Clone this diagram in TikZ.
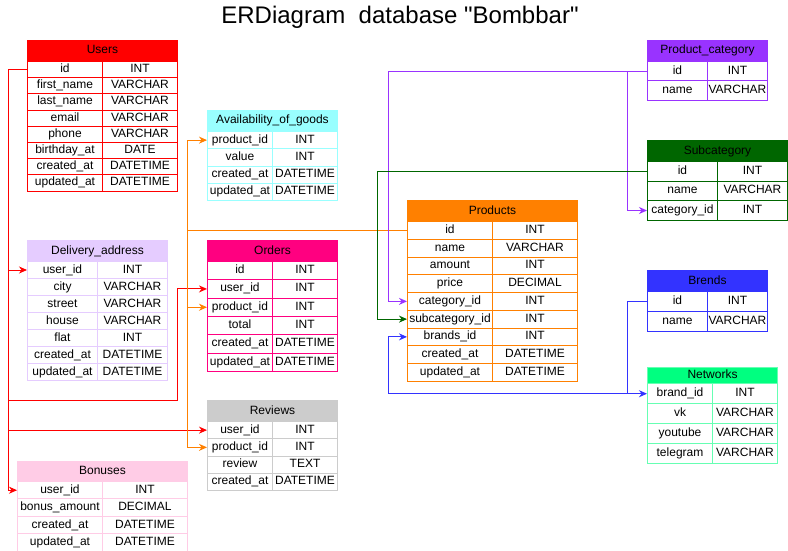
\documentclass[tikz,border=0pt]{standalone}
\usepackage{fontspec}
\setmainfont{Liberation Sans}[Ligatures=TeXOff]
\usetikzlibrary{arrows.meta}
\definecolor{usrred}{HTML}{FF0000}
\definecolor{avcyan}{HTML}{99FFFF}
\definecolor{dlvlav}{HTML}{E5CCFF}
\definecolor{ordpink}{HTML}{FF0080}
\definecolor{prdorange}{HTML}{FF8000}
\definecolor{pcpurple}{HTML}{9933FF}
\definecolor{subgreen}{HTML}{006600}
\definecolor{brblue}{HTML}{3333FF}
\definecolor{nethead}{HTML}{00FF80}
\definecolor{netline}{HTML}{66FFB3}
\definecolor{revgray}{HTML}{CCCCCC}
\definecolor{bonpink}{HTML}{FFCCE6}

\begin{document}
\begin{tikzpicture}[x=1pt,y=-1pt]
\tikzstyle{every node}+=[inner sep=0pt, anchor=north west, font=\fontsize{12}{14}\selectfont]
\tikzstyle{cell}=[draw, line width=1pt, text height=8.6pt, text depth=2.6pt]
\tikzstyle{fk}=[line width=1pt, -{Stealth[length=8pt,width=7pt,inset=2.5pt]}]
\tikzstyle{usr}=[cell, draw=usrred, minimum width=75pt, minimum height=16.2pt]
\tikzstyle{avl}=[cell, draw=avcyan, minimum width=65pt, minimum height=17.25pt]
\tikzstyle{dlv}=[cell, draw=dlvlav, minimum width=70pt, minimum height=17pt]
\tikzstyle{ord}=[cell, draw=ordpink, minimum width=65pt, minimum height=18.3pt]
\tikzstyle{prd}=[cell, draw=prdorange, minimum width=85pt, minimum height=17.75pt]
\tikzstyle{pct}=[cell, draw=pcpurple, minimum width=60pt, minimum height=19.5pt]
\tikzstyle{sbc}=[cell, draw=subgreen, minimum width=70pt, minimum height=19.6pt]
\tikzstyle{brd}=[cell, draw=brblue, minimum width=60pt, minimum height=20pt]
\tikzstyle{ntw}=[cell, draw=netline, minimum width=65pt, minimum height=19.85pt]
\tikzstyle{rvw}=[cell, draw=revgray, minimum width=65pt, minimum height=17.25pt]
\tikzstyle{bns}=[cell, draw=bonpink, minimum width=85pt, minimum height=17.4pt]
\useasboundingbox (0,0) rectangle (788,551);
\node[anchor=center, font=\fontsize{24}{28}\selectfont] (title) at (400,17) {ERDiagram\ \ database "Bombbar"};

\node[usr, fill=usrred, minimum width=150pt, minimum height=21pt] (users) at (27,40) {Users};
\node[usr] (users-id) at (27,61) {id};
\node[usr] (users-id-t) at (102,61) {INT};
\node[usr] (users-fn) at (27,77.2) {first\_name};
\node[usr] (users-fn-t) at (102,77.2) {VARCHAR};
\node[usr] (users-ln) at (27,93.4) {last\_name};
\node[usr] (users-ln-t) at (102,93.4) {VARCHAR};
\node[usr] (users-em) at (27,109.6) {email};
\node[usr] (users-em-t) at (102,109.6) {VARCHAR};
\node[usr] (users-ph) at (27,125.8) {phone};
\node[usr] (users-ph-t) at (102,125.8) {VARCHAR};
\node[usr] (users-bd) at (27,142) {birthday\_at};
\node[usr] (users-bd-t) at (102,142) {DATE};
\node[usr] (users-ca) at (27,158.2) {created\_at};
\node[usr] (users-ca-t) at (102,158.2) {DATETIME};
\node[usr] (users-ua) at (27,174.4) {updated\_at};
\node[usr] (users-ua-t) at (102,174.4) {DATETIME};

\node[avl, fill=avcyan, minimum width=130pt, minimum height=21pt] (avail) at (207,110) {Availability\_of\_goods};
\node[avl] (avail-pid) at (207,131) {product\_id};
\node[avl] (avail-pid-t) at (272,131) {INT};
\node[avl] (avail-val) at (207,148.25) {value};
\node[avl] (avail-val-t) at (272,148.25) {INT};
\node[avl] (avail-ca) at (207,165.5) {created\_at};
\node[avl] (avail-ca-t) at (272,165.5) {DATETIME};
\node[avl] (avail-ua) at (207,182.75) {updated\_at};
\node[avl] (avail-ua-t) at (272,182.75) {DATETIME};

\node[dlv, fill=dlvlav, minimum width=140pt, minimum height=21pt] (deliv) at (27,240) {Delivery\_address};
\node[dlv] (deliv-uid) at (27,261) {user\_id};
\node[dlv] (deliv-uid-t) at (97,261) {INT};
\node[dlv] (deliv-city) at (27,278) {city};
\node[dlv] (deliv-city-t) at (97,278) {VARCHAR};
\node[dlv] (deliv-st) at (27,295) {street};
\node[dlv] (deliv-st-t) at (97,295) {VARCHAR};
\node[dlv] (deliv-hs) at (27,312) {house};
\node[dlv] (deliv-hs-t) at (97,312) {VARCHAR};
\node[dlv] (deliv-fl) at (27,329) {flat};
\node[dlv] (deliv-fl-t) at (97,329) {INT};
\node[dlv] (deliv-ca) at (27,346) {created\_at};
\node[dlv] (deliv-ca-t) at (97,346) {DATETIME};
\node[dlv] (deliv-ua) at (27,363) {updated\_at};
\node[dlv] (deliv-ua-t) at (97,363) {DATETIME};

\node[ord, fill=ordpink, minimum width=130pt, minimum height=21pt] (orders) at (207,240) {Orders};
\node[ord] (ord-id) at (207,261) {id};
\node[ord] (ord-id-t) at (272,261) {INT};
\node[ord] (ord-uid) at (207,279.3) {user\_id};
\node[ord] (ord-uid-t) at (272,279.3) {INT};
\node[ord] (ord-pid) at (207,297.6) {product\_id};
\node[ord] (ord-pid-t) at (272,297.6) {INT};
\node[ord] (ord-tot) at (207,315.9) {total};
\node[ord] (ord-tot-t) at (272,315.9) {INT};
\node[ord] (ord-ca) at (207,334.2) {created\_at};
\node[ord] (ord-ca-t) at (272,334.2) {DATETIME};
\node[ord] (ord-ua) at (207,352.5) {updated\_at};
\node[ord] (ord-ua-t) at (272,352.5) {DATETIME};

\node[prd, fill=prdorange, minimum width=170pt, minimum height=21pt] (prod) at (407,200) {Products};
\node[prd] (prod-id) at (407,221) {id};
\node[prd] (prod-id-t) at (492,221) {INT};
\node[prd] (prod-nm) at (407,238.75) {name};
\node[prd] (prod-nm-t) at (492,238.75) {VARCHAR};
\node[prd] (prod-am) at (407,256.5) {amount};
\node[prd] (prod-am-t) at (492,256.5) {INT};
\node[prd] (prod-pr) at (407,274.25) {price};
\node[prd] (prod-pr-t) at (492,274.25) {DECIMAL};
\node[prd] (prod-cat) at (407,292) {category\_id};
\node[prd] (prod-cat-t) at (492,292) {INT};
\node[prd] (prod-sub) at (407,309.75) {subcategory\_id};
\node[prd] (prod-sub-t) at (492,309.75) {INT};
\node[prd] (prod-br) at (407,327.5) {brands\_id};
\node[prd] (prod-br-t) at (492,327.5) {INT};
\node[prd] (prod-ca) at (407,345.25) {created\_at};
\node[prd] (prod-ca-t) at (492,345.25) {DATETIME};
\node[prd] (prod-ua) at (407,363) {updated\_at};
\node[prd] (prod-ua-t) at (492,363) {DATETIME};

\node[pct, fill=pcpurple, minimum width=120pt, minimum height=21pt] (pcat) at (647,40) {Product\_category};
\node[pct] (pcat-id) at (647,61) {id};
\node[pct] (pcat-id-t) at (707,61) {INT};
\node[pct] (pcat-nm) at (647,80.5) {name};
\node[pct] (pcat-nm-t) at (707,80.5) {VARCHAR};

\node[sbc, fill=subgreen, minimum width=140pt, minimum height=21pt] (sub) at (647,140) {Subcategory};
\node[sbc] (sub-id) at (647,161) {id};
\node[sbc] (sub-id-t) at (717,161) {INT};
\node[sbc] (sub-nm) at (647,180.6) {name};
\node[sbc] (sub-nm-t) at (717,180.6) {VARCHAR};
\node[sbc] (sub-cat) at (647,200.2) {category\_id};
\node[sbc] (sub-cat-t) at (717,200.2) {INT};

\node[brd, fill=brblue, minimum width=120pt, minimum height=21pt] (brends) at (647,270) {Brends};
\node[brd] (br-id) at (647,291) {id};
\node[brd] (br-id-t) at (707,291) {INT};
\node[brd] (br-nm) at (647,311) {name};
\node[brd] (br-nm-t) at (707,311) {VARCHAR};

\node[ntw, fill=nethead, minimum width=130pt, minimum height=16.3pt] (net) at (647,367) {Networks};
\node[ntw] (net-bid) at (647,383.3) {brand\_id};
\node[ntw] (net-bid-t) at (712,383.3) {INT};
\node[ntw] (net-vk) at (647,403.15) {vk};
\node[ntw] (net-vk-t) at (712,403.15) {VARCHAR};
\node[ntw] (net-yt) at (647,423) {youtube};
\node[ntw] (net-yt-t) at (712,423) {VARCHAR};
\node[ntw] (net-tg) at (647,442.85) {telegram};
\node[ntw] (net-tg-t) at (712,442.85) {VARCHAR};

\node[rvw, fill=revgray, minimum width=130pt, minimum height=21pt] (rev) at (207,400) {Reviews};
\node[rvw] (rev-uid) at (207,421) {user\_id};
\node[rvw] (rev-uid-t) at (272,421) {INT};
\node[rvw] (rev-pid) at (207,438.25) {product\_id};
\node[rvw] (rev-pid-t) at (272,438.25) {INT};
\node[rvw] (rev-txt) at (207,455.5) {review};
\node[rvw] (rev-txt-t) at (272,455.5) {TEXT};
\node[rvw] (rev-ca) at (207,472.75) {created\_at};
\node[rvw] (rev-ca-t) at (272,472.75) {DATETIME};

\node[bns, fill=bonpink, minimum width=170pt, minimum height=20pt] (bonus) at (17,461) {Bonuses};
\node[bns] (bonus-uid) at (17,481) {user\_id};
\node[bns] (bonus-uid-t) at (102,481) {INT};
\node[bns] (bonus-amt) at (17,498.4) {bonus\_amount};
\node[bns] (bonus-amt-t) at (102,498.4) {DECIMAL};
\node[bns] (bonus-ca) at (17,515.8) {created\_at};
\node[bns] (bonus-ca-t) at (102,515.8) {DATETIME};
\node[bns] (bonus-ua) at (17,533.2) {updated\_at};
\node[bns] (bonus-ua-t) at (102,533.2) {DATETIME};

\draw[fk, usrred] (users-id.west) -- ++(-19,0) |- (bonus-uid.west);
\draw[fk, usrred] (users-id.west) -- ++(-19,0) |- (deliv-uid.west);
\draw[fk, usrred] (users-id.west) -- ++(-19,0) |- (rev-uid.west);
\draw[fk, usrred] (users-id.west) -- ++(-19,0) -- ++(0,331) -| ([xshift=-30pt]ord-uid.west) -- (ord-uid.west);
\draw[fk, prdorange] (prod-id.west) -- ++(-220,0) |- (avail-pid.west);
\draw[fk, prdorange] (prod-id.west) -- ++(-220,0) |- (ord-pid.west);
\draw[fk, prdorange] (prod-id.west) -- ++(-220,0) |- (rev-pid.west);
\draw[fk, pcpurple] (pcat-id.west) -- ++(-259,0) |- (prod-cat.west);
\draw[fk, pcpurple] (pcat-id.west) -- ++(-20,0) |- (sub-cat.west);
\draw[fk, subgreen] (sub-id.west) -- ++(-270,0) |- (prod-sub.west);
\draw[fk, brblue] (br-id.west) -- ++(-20,0) |- (net-bid.west);
\draw[fk, brblue] (br-id.west) -- ++(-20,0) |- ([xshift=-259pt]net-bid.west) |- (prod-br.west);
\end{tikzpicture}
\end{document}
